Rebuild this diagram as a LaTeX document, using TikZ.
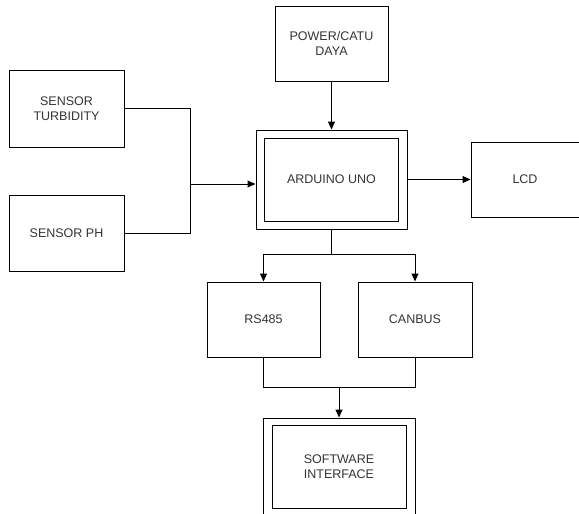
\documentclass[tikz,border=0pt]{standalone}
\usepackage{fontspec}
\setmainfont{Liberation Sans}
\usetikzlibrary{arrows.meta}
\tikzset{
  block/.style={draw, line width=1pt, align=center, text=black!80,
    font=\fontsize{12.5}{15.5}\selectfont},
  >={Triangle[length=8pt,width=7pt]}
}
\begin{document}
\begin{tikzpicture}[x=1pt, y=-1pt, line width=1pt]
\useasboundingbox (0,0) rectangle (579,514);
\clip (0,0) rectangle (579,514);
\node (power)[block, minimum width=113pt, minimum height=75pt] at (331.5, 43.5) {POWER/CATU\\DAYA};
\node (turb)[block, minimum width=115pt, minimum height=77pt] at (66.5, 108.5) {SENSOR\\TURBIDITY};
\node (ph)[block, minimum width=115pt, minimum height=76pt] at (66.5, 233) {SENSOR PH};
\node (ardout)[block, minimum width=151pt, minimum height=99pt] at (331.5, 179.5) {};
\node (ardin)[block, minimum width=134pt, minimum height=83pt] at (331.5, 179.5) {ARDUINO UNO};
\node (lcd)[block, minimum width=108pt, minimum height=75pt] at (525, 179.5) {LCD};
\node (rs485)[block, minimum width=113pt, minimum height=75pt] at (263.5, 319.5) {RS485};
\node (canbus)[block, minimum width=114pt, minimum height=75pt] at (415, 319.5) {CANBUS};
\node (softout)[block, minimum width=152pt, minimum height=104pt] at (339, 470) {};
\node (softin)[block, minimum width=134pt, minimum height=83pt] at (339, 466.5) {SOFTWARE\\INTERFACE};
\coordinate (sensjoin) at (190, 184);
\coordinate (ardsplit) at (331.5, 254);
\coordinate (busjoin) at (339, 387);
\draw (turb.east) -| (sensjoin);
\draw (ph.east) -| (sensjoin);
\draw[->] (sensjoin) -- (sensjoin -| ardout.west);
\draw[->] (power) -- (ardout);
\draw[->] (ardout) -- (lcd);
\draw (ardout.south) -- (ardsplit);
\draw[->] (ardsplit) -| (rs485);
\draw[->] (ardsplit) -| (canbus);
\draw (rs485.south) |- (busjoin);
\draw (canbus.south) |- (busjoin);
\draw[->] (busjoin) -- (softout);
\end{tikzpicture}
\end{document}
